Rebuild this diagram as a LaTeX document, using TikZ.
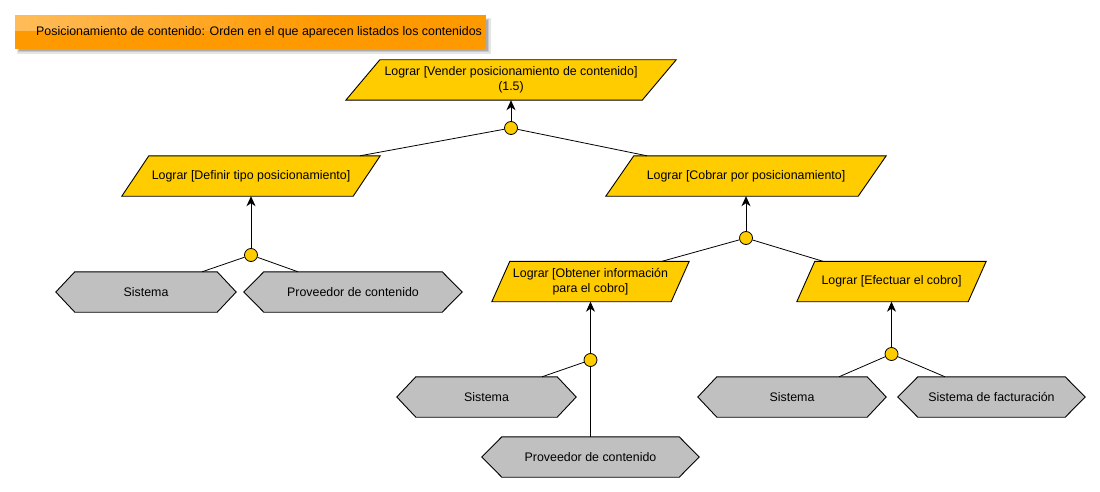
\documentclass[tikz,border=0pt]{standalone}
\usepackage{fontspec}
\setmainfont{Liberation Sans}
\usetikzlibrary{arrows.meta,backgrounds,fadings}
\definecolor{gold}{HTML}{FFCC00}
\definecolor{hexgrey}{HTML}{C0C0C0}
\definecolor{titleorange}{HTML}{FF9900}
\tikzset{
  txt/.style={font=\fontsize{12.4}{15}\selectfont, inner sep=0pt, minimum height=40pt, align=center},
  goalbox/.style={txt},
  actorbox/.style={txt},
  junction/.style={circle, draw=black, fill=gold, line width=0.8pt, minimum size=13pt, inner sep=0pt},
  goalshape/.style={draw=black, fill=gold, line width=0.9pt, line join=miter},
  hexshape/.style={draw=black, fill=hexgrey, line width=0.9pt},
  link/.style={draw=black, line width=0.8pt},
  uparrow/.style={draw=black, line width=0.9pt, -{Stealth[length=10pt,width=9pt,inset=3pt]}},
}
\begin{document}
\begin{tikzpicture}[x=1pt,y=-1pt]
\useasboundingbox (0,0) rectangle (1100,492);
% title banner with shadow
\fill[black, opacity=0.10] (17,18) rectangle (491,54);
\fill[black, opacity=0.12] (18,19) rectangle (489,52);
\fill[black, opacity=0.15] (19,20) rectangle (488,51);
\fill[titleorange] (15,15) rectangle (486,49);
\fill[white, opacity=0.35, path fading=east] (15,15) rectangle (330,31);
\node[anchor=west, font=\fontsize{12.4}{15}\selectfont, inner sep=0pt] (title) at (36,32) {Posicionamiento de contenido: Orden en el que aparecen listados los contenidos};

% goals
\node[goalbox, minimum width=296pt] (top) at (511,80) {Lograr [Vender posicionamiento de contenido]\\(1.5)};
\node[goalbox, minimum width=231pt] (def) at (251,176) {Lograr [Definir tipo posicionamiento]};
\node[goalbox, minimum width=252pt] (cob) at (746,176) {Lograr [Cobrar por posicionamiento]};
\node[goalbox, minimum width=179pt] (obt) at (590.5,281.5) {Lograr [Obtener información\\para el cobro]};
\node[goalbox, minimum width=171pt] (efe) at (891.5,281.5) {Lograr [Efectuar el cobro]};

% actors
\node[actorbox, minimum width=142pt] (sis1) at (146,292) {Sistema};
\node[actorbox, minimum width=178pt] (prov1) at (353,292) {Proveedor de contenido};
\node[actorbox, minimum width=141pt] (sis2) at (486.5,397) {Sistema};
\node[actorbox, minimum width=177pt] (prov2) at (590.5,457) {Proveedor de contenido};
\node[actorbox, minimum width=150pt] (sis3) at (792,397) {Sistema};
\node[actorbox, minimum width=147pt] (fac) at (991.5,397) {Sistema de facturación};

% junctions
\node[junction] (c0) at (511,128) {};
\node[junction] (c1) at (251,255) {};
\node[junction] (c2) at (746,238) {};
\node[junction] (c3) at (590.5,360) {};
\node[junction] (c4) at (891.5,354) {};

\begin{pgfonlayer}{background}
\foreach \n/\s in {top/34, def/27, cob/28, obt/18, efe/18}
  \path[goalshape] ([xshift={\s*0.5pt}]\n.north west) -- ([xshift={\s*0.5pt}]\n.north east)
     -- ([xshift={-\s*0.5pt}]\n.south east) -- ([xshift={-\s*0.5pt}]\n.south west) -- cycle;
\foreach \n/\i in {sis1/19, prov1/20, sis2/19, prov2/20, sis3/19, fac/20}
  \path[hexshape] (\n.north west) -- (\n.north east) -- ([xshift={\i*1pt}]\n.east)
     -- (\n.south east) -- (\n.south west) -- ([xshift={-\i*1pt}]\n.west) -- cycle;
\end{pgfonlayer}

% connectors
\draw[uparrow] (c0) -- (top.south);
\draw[link] (c0) -- ([xshift=109pt]def.north);
\draw[link] (c0) -- ([xshift=-99pt]cob.north);

\draw[uparrow] (c1) -- (def.south);
\draw[link] (c1) -- ([xshift=56pt]sis1.north);
\draw[link] (c1) -- ([xshift=-55pt]prov1.north);

\draw[uparrow] (c2) -- (cob.south);
\draw[link] (c2) -- ([xshift=71.5pt]obt.north);
\draw[link] (c2) -- ([xshift=-68.5pt]efe.north);

\draw[uparrow] (c3) -- (obt.south);
\draw[link] (c3) -- ([xshift=55.5pt]sis2.north);
\draw[link] (c3) -- (prov2.north);

\draw[uparrow] (c4) -- (efe.south);
\draw[link] (c4) -- ([xshift=47pt]sis3.north);
\draw[link] (c4) -- ([xshift=-46.5pt]fac.north);
\end{tikzpicture}
\end{document}
